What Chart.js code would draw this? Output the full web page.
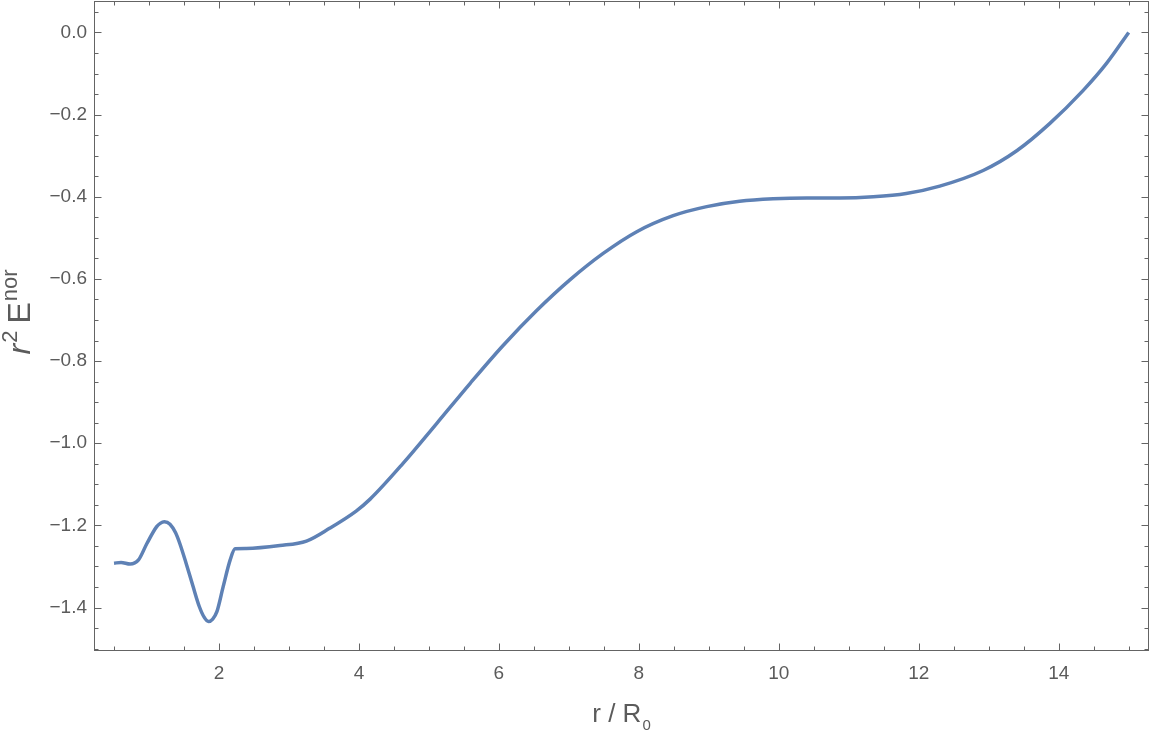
<!DOCTYPE html>
<html>
<head>
<meta charset="utf-8">
<script src="https://cdn.jsdelivr.net/npm/chart.js@4"></script>
<style>
  body { margin: 0; background: #fff; }
  #wrap { width: 1152px; height: 734px; position: relative; }
</style>
</head>
<body>
<div id="wrap"><canvas id="energyChart"></canvas></div>
<script>
// r / R0 values
const rValues = [0.5, 0.6, 0.73, 0.85, 0.97, 1.11, 1.16, 1.22, 1.30, 1.38, 1.44, 1.53, 1.63, 1.72,
  1.79, 1.85, 1.91, 1.97, 2.06, 2.16, 2.23, 2.39, 2.87, 3.25, 3.58, 3.96, 4.16, 4.63, 5.11,
  5.59, 6.06, 6.54, 7.01, 7.49, 7.97, 8.49, 8.97, 9.44, 9.92, 10.4, 10.87, 11.35, 11.82,
  12.3, 12.92, 13.4, 13.87, 14.35, 14.68, 15.0];
// r^2 E^nor at those points
const eValues = [-1.292, -1.290, -1.294, -1.284, -1.244, -1.203, -1.195, -1.191, -1.197, -1.218,
  -1.244, -1.292, -1.349, -1.398, -1.424, -1.434, -1.428, -1.410, -1.349, -1.284, -1.257,
  -1.256, -1.249, -1.238, -1.207, -1.165, -1.136, -1.049, -0.952, -0.854, -0.762, -0.677,
  -0.603, -0.538, -0.485, -0.446, -0.424, -0.411, -0.405, -0.403, -0.403, -0.400, -0.392,
  -0.374, -0.336, -0.288, -0.222, -0.141, -0.076, 0.0];

const xTicks = [2, 4, 6, 8, 10, 12, 14];
const yTicks = [0.0, -0.2, -0.4, -0.6, -0.8, -1.0, -1.2, -1.4];
const xRange = [0.214, 15.29];
const yRange = [-1.5057, 0.0765];

const FONT = "'Liberation Sans', Arial, sans-serif";
const TEXT_COLOR = '#5b5b5b';
const FRAME_COLOR = '#646464';

// minor tick positions (every 0.5 on x, every 0.05 on y)
const xMinor = [];
for (let i = 1; i <= 30; i++) xMinor.push(i * 0.5);
const yMinor = [];
for (let i = -30; i <= 1; i++) yMinor.push(i * 0.05);

function isMajor(v, list) {
  return list.some(t => Math.abs(t - v) < 1e-6);
}

// draws a run of text pieces (with sub/superscripts) centred on (0,0)
function drawRun(ctx, pieces) {
  let total = 0;
  pieces.forEach(p => { ctx.font = p.font; total += ctx.measureText(p.text).width + (p.gap || 0); });
  let cx = -total / 2;
  pieces.forEach(p => {
    ctx.font = p.font;
    ctx.fillText(p.text, cx + (p.gap || 0), p.dy || 0);
    cx += ctx.measureText(p.text).width + (p.gap || 0);
  });
}

const frameTicks = {
  id: 'frameTicks',
  afterDraw(chart) {
    const { ctx, chartArea: a, scales: { x, y } } = chart;
    ctx.save();
    ctx.strokeStyle = FRAME_COLOR;
    ctx.lineWidth = 1;
    const L = Math.round(a.left) + 0.5, R = Math.round(a.right) - 0.5;
    const T = Math.round(a.top) + 0.5, B = Math.round(a.bottom) - 0.5;
    ctx.strokeRect(L, T, R - L, B - T);
    ctx.beginPath();
    xMinor.forEach(v => {
      const px = Math.round(x.getPixelForValue(v)) + 0.5;
      const len = isMajor(v, xTicks) ? 7 : 4;
      ctx.moveTo(px, B); ctx.lineTo(px, B - len);
      ctx.moveTo(px, T); ctx.lineTo(px, T + len);
    });
    yMinor.forEach(v => {
      const py = Math.round(y.getPixelForValue(v)) + 0.5;
      if (py < T || py > B) return;
      const len = isMajor(v, yTicks) ? 7 : 4;
      ctx.moveTo(L, py); ctx.lineTo(L + len, py);
      ctx.moveTo(R, py); ctx.lineTo(R - len, py);
    });
    ctx.stroke();

    // axis titles
    ctx.fillStyle = TEXT_COLOR;
    ctx.textBaseline = 'alphabetic';
    ctx.textAlign = 'left';
    ctx.save();
    ctx.translate((a.left + a.right) / 2, 722);
    drawRun(ctx, [
      { text: 'r / R', font: '26px ' + FONT },
      { text: '0', font: '15px ' + FONT, dy: 8, gap: 1 }
    ]);
    ctx.restore();

    ctx.save();
    ctx.translate(30, 312);
    ctx.rotate(-Math.PI / 2);
    drawRun(ctx, [
      { text: 'r', font: 'italic 32px ' + FONT },
      { text: '2', font: '22px ' + FONT, dy: -13, gap: 1 },
      { text: 'E', font: '32px ' + FONT, gap: 7 },
      { text: 'nor', font: '22px ' + FONT, dy: -13, gap: 1 }
    ]);
    ctx.restore();
    ctx.restore();
  }
};

const points = rValues.map((r, i) => ({ x: r, y: eValues[i] }));

new Chart(document.getElementById('energyChart'), {
  type: 'line',
  data: {
    datasets: [{
      data: points,
      borderColor: '#5e81b5',
      borderWidth: 3.5,
      pointRadius: 0,
      fill: false,
      cubicInterpolationMode: 'monotone'
    }]
  },
  options: {
    responsive: true,
    maintainAspectRatio: false,
    animation: false,
    layout: { padding: { top: 1, right: 3, left: 0, bottom: 0 } },
    plugins: { legend: { display: false }, tooltip: { enabled: false } },
    scales: {
      x: {
        type: 'linear',
        min: xRange[0],
        max: xRange[1],
        afterBuildTicks: s => { s.ticks = xTicks.map(v => ({ value: v })); },
        afterFit: s => { s.height = 83; s.paddingLeft = 0; s.paddingRight = 0; },
        grid: { display: false, drawTicks: false },
        border: { display: false },
        ticks: {
          padding: 11,
          maxRotation: 0,
          color: TEXT_COLOR,
          font: { family: FONT, size: 19 },
          callback: v => String(v)
        }
      },
      y: {
        type: 'linear',
        min: yRange[0],
        max: yRange[1],
        afterBuildTicks: s => { s.ticks = yTicks.map(v => ({ value: v })); },
        afterFit: s => { s.width = 94; s.paddingTop = 0; s.paddingBottom = 0; },
        grid: { display: false, drawTicks: false },
        border: { display: false },
        ticks: {
          padding: 7,
          color: TEXT_COLOR,
          font: { family: FONT, size: 19 },
          callback: v => (v < 0 ? '\u2212' : '') + Math.abs(v).toFixed(1)
        }
      }
    }
  },
  plugins: [frameTicks]
});
</script>
</body>
</html>
